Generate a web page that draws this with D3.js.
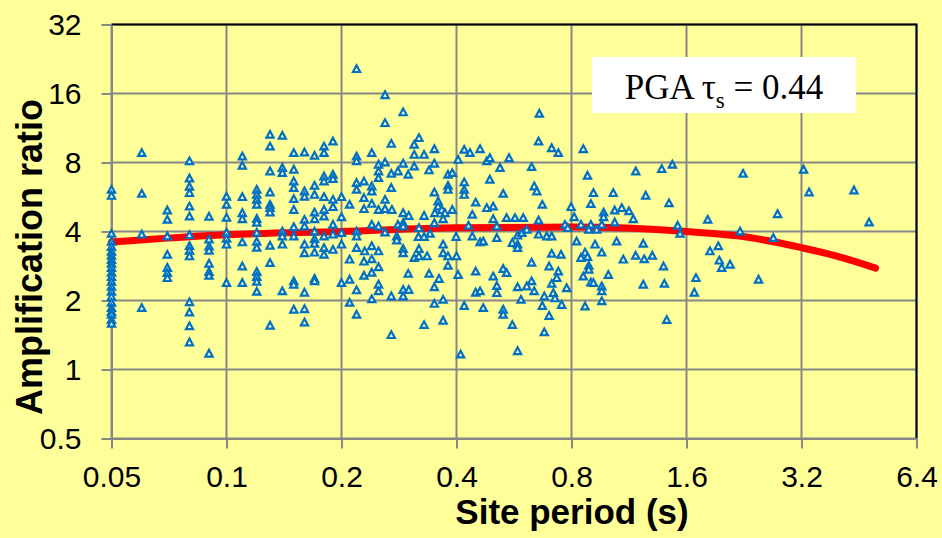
<!DOCTYPE html>
<html>
<head>
<meta charset="utf-8">
<script src="https://cdn.jsdelivr.net/npm/d3@7"></script>
<style>
  html, body { margin: 0; padding: 0; background: #FFFF99; }
  svg { display: block; }
</style>
</head>
<body>
<script>
// Axis ticks (log base 2 on both axes)
const xTicks = [0.05, 0.1, 0.2, 0.4, 0.8, 1.6, 3.2, 6.4];
const xTickLabels = ["0.05", "0.1", "0.2", "0.4", "0.8", "1.6", "3.2", "6.4"];
const yTicks = [0.5, 1, 2, 4, 8, 16, 32];
const yTickLabels = ["0.5", "1", "2", "4", "8", "16", "32"];

// Short-period sites recorded at discrete periods: one list of ratios per period
const columnPeriods = [0.05, 0.06, 0.07, 0.08, 0.09, 0.10, 0.11, 0.12, 0.13, 0.14, 0.15, 0.16, 0.17, 0.18, 0.19, 0.20, 0.21];
const columnRatios = [
  [6.07, 5.71, 3.90, 3.60, 3.42, 3.26, 3.13, 3.00, 2.89, 2.77, 2.64, 2.53, 2.41, 2.29, 2.18, 2.07, 1.95, 1.85, 1.78, 1.73, 1.64, 1.58],
  [8.78, 5.83, 3.87, 1.85],
  [4.93, 4.49, 3.80, 3.16, 2.77, 2.63, 2.50],
  [8.08, 6.80, 6.26, 5.87, 5.13, 4.64, 3.85, 3.45, 3.29, 3.11, 1.96, 1.77, 1.54, 1.31],
  [4.63, 3.68, 3.43, 3.29, 2.89, 2.66, 2.56, 1.17],
  [5.66, 5.22, 4.58, 3.94, 3.71, 3.50, 2.38],
  [8.48, 7.73, 5.64, 4.80, 4.52, 3.58, 2.81, 2.38],
  [6.07, 5.77, 5.49, 5.22, 4.53, 4.36, 3.94, 3.60, 3.39, 2.66, 2.53, 2.41, 2.18],
  [10.55, 9.37, 7.30, 5.91, 5.22, 5.05, 4.83, 3.46, 2.91, 1.55],
  [10.44, 7.56, 7.18, 3.99, 3.80, 3.50, 2.19],
  [8.78, 7.43, 6.60, 6.18, 5.53, 4.96, 4.17, 3.80, 2.42, 2.34, 1.82],
  [8.83, 5.97, 5.66, 4.49, 4.20, 3.50, 3.21, 2.16, 1.83, 1.60],
  [8.54, 6.32, 5.77, 4.83, 4.52, 3.99, 3.70, 3.53, 3.23, 2.48, 2.42],
  [9.37, 8.78, 6.94, 6.60, 5.64, 4.96, 4.64, 3.80, 3.38, 3.16],
  [9.86, 7.06, 6.76, 5.49, 5.10, 4.27, 3.87, 3.32],
  [5.64, 4.61, 3.93, 3.50, 2.38],
  [5.22, 3.01, 2.46, 1.95]
];

// Sites with periods between 0.21 s and 0.41 s
const midPeriods = [0.219, 0.260, 0.290, 0.260, 0.319, 0.270, 0.310, 0.240, 0.350, 0.219, 0.219, 0.329, 0.310, 0.250, 0.260, 0.290, 0.350, 0.404, 0.310, 0.250, 0.281, 0.270, 0.299, 0.339, 0.380, 0.390, 0.250, 0.219, 0.229, 0.219, 0.240, 0.240, 0.270, 0.380, 0.380, 0.350, 0.229, 0.260, 0.240, 0.229, 0.250, 0.260, 0.271, 0.358, 0.358, 0.366, 0.351, 0.373, 0.390, 0.329, 0.290, 0.300, 0.240, 0.250, 0.281, 0.290, 0.290, 0.350, 0.369, 0.319, 0.260, 0.219, 0.219, 0.279, 0.279, 0.318, 0.329, 0.341, 0.399, 0.219, 0.240, 0.230, 0.250, 0.290, 0.290, 0.319, 0.369, 0.369, 0.400, 0.380, 0.310, 0.319, 0.335, 0.229, 0.240, 0.380, 0.250, 0.240, 0.229, 0.299, 0.339, 0.404, 0.360, 0.350, 0.250, 0.250, 0.219, 0.290, 0.300, 0.290, 0.270, 0.240, 0.350, 0.369, 0.219, 0.329, 0.369, 0.270];
const midRatios = [20.4, 15.7, 13.21, 11.86, 10.2, 9.63, 9.54, 8.78, 9.13, 8.48, 8.08, 8.62, 8.62, 7.81, 7.98, 7.89, 7.89, 8.2, 7.67, 7.30, 7.30, 7.13, 7.06, 7.38, 7.06, 7.18, 6.83, 6.50, 6.60, 6.07, 6.28, 5.97, 6.18, 6.32, 6.07, 5.91, 5.59, 5.49, 5.27, 5.00, 4.96, 5.00, 4.96, 5.40, 5.13, 4.96, 4.80, 4.80, 4.96, 4.67, 4.80, 4.67, 4.27, 4.20, 4.27, 4.34, 4.20, 4.34, 4.52, 4.13, 3.95, 3.99, 3.80, 3.80, 3.65, 3.78, 3.78, 3.90, 3.78, 3.38, 3.44, 3.27, 3.27, 3.35, 3.21, 3.35, 3.50, 3.21, 3.11, 3.11, 3.06, 3.11, 3.11, 2.95, 3.02, 2.83, 2.79, 2.64, 2.56, 2.61, 2.61, 2.58, 2.48, 2.28, 2.34, 2.19, 2.21, 2.22, 2.22, 2.08, 2.08, 2.02, 1.93, 2.01, 1.73, 1.56, 1.63, 1.41];

// Sites with periods between 0.41 s and 0.83 s
const upperPeriods = [0.659, 0.656, 0.710, 0.739, 0.419, 0.434, 0.461, 0.480, 0.489, 0.549, 0.629, 0.520, 0.489, 0.419, 0.419, 0.419, 0.639, 0.649, 0.530, 0.449, 0.671, 0.480, 0.499, 0.798, 0.440, 0.541, 0.569, 0.598, 0.499, 0.656, 0.813, 0.430, 0.510, 0.769, 0.782, 0.440, 0.510, 0.578, 0.593, 0.611, 0.656, 0.689, 0.710, 0.461, 0.470, 0.560, 0.578, 0.578, 0.825, 0.710, 0.751, 0.629, 0.449, 0.530, 0.541, 0.499, 0.699, 0.739, 0.732, 0.629, 0.710, 0.510, 0.510, 0.578, 0.611, 0.639, 0.777, 0.449, 0.461, 0.717, 0.679, 0.724, 0.590, 0.754, 0.671, 0.419, 0.470, 0.530, 0.530, 0.699, 0.560, 0.679, 0.578, 0.410];
const upperRatios = [13.03, 9.86, 9.22, 8.78, 9.07, 8.78, 9.13, 8.08, 8.34, 8.34, 7.63, 7.56, 6.72, 6.54, 6.07, 5.77, 6.28, 5.97, 5.83, 5.34, 5.22, 5.05, 5.13, 5.10, 4.72, 4.57, 4.57, 4.57, 4.52, 4.46, 4.61, 4.23, 4.20, 4.27, 4.13, 3.80, 3.74, 3.83, 3.93, 4.06, 3.87, 3.80, 3.80, 3.58, 3.61, 3.56, 3.50, 3.38, 3.61, 3.19, 3.16, 2.92, 2.67, 2.74, 2.63, 2.54, 2.81, 2.67, 2.50, 2.42, 2.36, 2.31, 2.15, 2.28, 2.30, 2.19, 2.26, 2.16, 2.19, 2.15, 2.08, 2.04, 2.01, 1.91, 1.89, 1.89, 1.85, 1.82, 1.73, 1.71, 1.56, 1.45, 1.20, 1.16];

// Long-period sites (above 0.83 s)
const longPeriods = [0.859, 1.469, 1.378, 1.178, 0.881, 0.913, 1.029, 1.251, 0.899, 1.440, 0.971, 1.038, 1.083, 1.131, 0.971, 1.161, 1.038, 0.847, 0.899, 0.960, 0.931, 0.888, 1.517, 1.539, 0.922, 1.050, 1.233, 0.868, 0.960, 0.847, 0.881, 0.888, 0.888, 1.093, 1.178, 1.240, 1.302, 1.393, 0.859, 0.999, 0.899, 0.913, 0.960, 0.960, 0.960, 1.233, 1.400, 1.694, 1.677, 0.868, 1.420, 2.25, 3.24, 3.35, 4.39, 4.81, 2.77, 1.818, 2.21, 2.70, 1.843, 1.938, 1.950, 1.978, 2.08, 2.47];
const longRatios = [9.13, 7.81, 7.47, 7.30, 6.99, 5.87, 5.87, 5.72, 5.26, 5.30, 4.83, 4.93, 5.05, 4.89, 4.61, 4.52, 4.37, 4.27, 4.27, 4.27, 4.06, 4.06, 4.23, 3.90, 3.50, 3.61, 3.53, 3.23, 3.23, 3.06, 3.09, 2.83, 2.72, 3.01, 3.13, 3.02, 3.13, 2.81, 2.54, 2.58, 2.39, 2.38, 2.30, 2.19, 1.98, 2.34, 2.36, 2.50, 2.16, 1.88, 1.64, 7.13, 7.43, 5.91, 6.03, 4.37, 4.75, 4.49, 3.99, 3.74, 3.27, 3.44, 2.98, 2.77, 2.86, 2.46];

// Fitted trend of amplification ratio versus site period
const trendPeriods = [0.05, 0.1, 0.2, 0.4, 0.8, 1.6, 2.2, 2.7, 3.2, 4.0, 5.0];
const trendRatios = [3.60, 3.87, 4.00, 4.15, 4.18, 4.00, 3.82, 3.61, 3.40, 3.11, 2.77];

const W = 942, H = 538;
const plot = { left: 111.5, right: 916.5, top: 24.5, bottom: 438.5 };

const x = d3.scaleLog().base(2).domain([0.05, 6.4]).range([plot.left, plot.right]);
const y = d3.scaleLog().base(2).domain([0.5, 32]).range([plot.bottom, plot.top]);

const svg = d3.select("body").append("svg")
  .attr("width", W).attr("height", H);

svg.append("rect").attr("width", W).attr("height", H).attr("fill", "#FFFF99");

const gridColor = "#878787";

// Gridlines
svg.append("g").selectAll("line").data(xTicks).join("line")
  .attr("x1", d => x(d)).attr("x2", d => x(d))
  .attr("y1", plot.top).attr("y2", plot.bottom)
  .attr("stroke", gridColor).attr("stroke-width", 2);
svg.append("g").selectAll("line").data(yTicks).join("line")
  .attr("x1", plot.left).attr("x2", plot.right)
  .attr("y1", d => y(d)).attr("y2", d => y(d))
  .attr("stroke", gridColor).attr("stroke-width", 2);

// Plot frame on top and right
svg.append("path")
  .attr("d", `M${plot.left},${plot.top}H${plot.right}V${plot.bottom}`)
  .attr("fill", "none").attr("stroke", "#000").attr("stroke-width", 2);

// Axes
const yAxis = d3.axisLeft(y).tickValues(yTicks)
  .tickFormat((d, i) => yTickLabels[i])
  .tickSize(10).tickSizeOuter(0).tickPadding(20);
const xAxis = d3.axisBottom(x).tickValues(xTicks)
  .tickFormat((d, i) => xTickLabels[i])
  .tickSize(10).tickSizeOuter(0).tickPadding(17);

function styleAxis(g) {
  g.select(".domain").attr("stroke", gridColor).attr("stroke-width", 2);
  g.selectAll(".tick line").attr("stroke", gridColor).attr("stroke-width", 2);
  g.selectAll(".tick text")
    .attr("fill", "#000")
    .style("font-family", "'Liberation Sans', Arial, sans-serif")
    .style("font-size", "30px");
}

svg.append("g").attr("transform", `translate(${plot.left},0)`).call(yAxis).call(styleAxis);
svg.append("g").attr("transform", `translate(0,${plot.bottom})`).call(xAxis).call(styleAxis);

// Axis titles
svg.append("text")
  .attr("x", 572).attr("y", 524)
  .attr("text-anchor", "middle")
  .style("font-family", "'Liberation Sans', Arial, sans-serif")
  .style("font-size", "35px").style("font-weight", "bold")
  .text("Site period (s)");

svg.append("text")
  .attr("transform", "translate(42,257) rotate(-90)")
  .attr("text-anchor", "middle")
  .style("font-family", "'Liberation Sans', Arial, sans-serif")
  .style("font-size", "36px").style("font-weight", "bold")
  .text("Amplification ratio");

// Trend curve (drawn beneath the markers)
const trend = trendPeriods.map((p, i) => [p, trendRatios[i]]);
svg.append("path")
  .datum(trend)
  .attr("d", d3.line().x(d => x(d[0])).y(d => y(d[1])).curve(d3.curveMonotoneX))
  .attr("fill", "none").attr("stroke", "#FF0000")
  .attr("stroke-width", 7).attr("stroke-linecap", "round");

// Site markers
const points = [];
columnPeriods.forEach((p, i) => columnRatios[i].forEach(r => points.push([p, r])));
midPeriods.forEach((p, i) => points.push([p, midRatios[i]]));
upperPeriods.forEach((p, i) => points.push([p, upperRatios[i]]));
longPeriods.forEach((p, i) => points.push([p, longRatios[i]]));

const tri = "M0,-4L3.6,2.7L-3.6,2.7Z";
svg.append("g").selectAll("path").data(points).join("path")
  .attr("d", tri)
  .attr("transform", d => `translate(${x(d[0])},${y(d[1])})`)
  .attr("fill", "#FFFFFF")
  .attr("stroke", "#0070C0")
  .attr("stroke-width", 2.2)
  .attr("stroke-linejoin", "miter");

// Dispersion annotation
svg.append("rect")
  .attr("x", 592).attr("y", 57).attr("width", 264).attr("height", 56)
  .attr("fill", "#FFFFFF");
const note = svg.append("text")
  .attr("x", 724).attr("y", 99)
  .attr("text-anchor", "middle")
  .style("font-family", "'Liberation Serif', 'Times New Roman', serif")
  .style("font-size", "35px")
  .attr("fill", "#000");
note.append("tspan").text("PGA \u03C4");
note.append("tspan").attr("dy", 9).style("font-size", "23px").text("s");
note.append("tspan").attr("dy", -9).text(" = 0.44");
</script>
</body>
</html>
